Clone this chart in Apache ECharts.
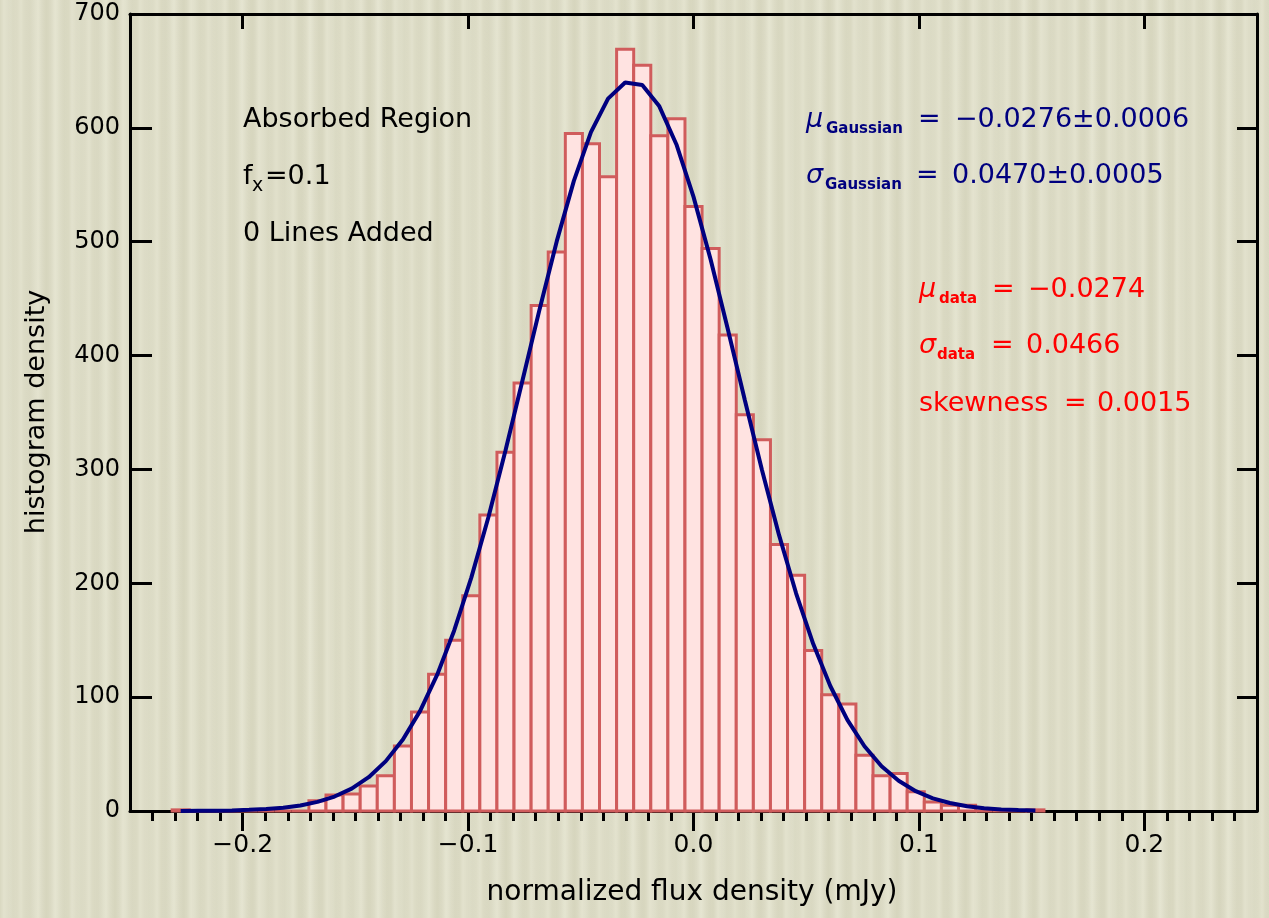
<!DOCTYPE html>
<html>
<head>
<meta charset="utf-8">
<script src="https://cdn.jsdelivr.net/npm/echarts@6/dist/echarts.min.js"></script>
<style>
  html, body { margin:0; padding:0; }
  body { width:1269px; height:918px; background-color:#d9d8c1;
    background-image:
      repeating-linear-gradient(90deg, rgba(255,255,240,0) 0px, rgba(255,255,240,0.22) 4px, rgba(255,255,240,0) 9px, rgba(190,190,160,0.10) 13px, rgba(255,255,240,0) 17px),
      repeating-linear-gradient(90deg, rgba(255,255,245,0) 0px, rgba(255,255,245,0.15) 11px, rgba(255,255,245,0) 23px); }
  #chart { width:1269px; height:918px; }
</style>
</head>
<body>
<div id="chart"></div>
<script>
// ---- data ----
const binStart = -0.2313;      // left edge of first histogram bin
const binWidth = 0.007584;     // histogram bin width
const counts = [1, 0, 0, 0, 0, 0, 0, 0, 9, 14, 15, 22, 31, 57, 87, 120, 150, 189,
  260, 315, 376, 444, 491, 595, 586, 557, 669, 655, 593, 608, 531, 494, 418,
  348, 326, 234, 207, 141, 102, 94, 49, 31, 33, 17, 8, 5, 5, 0, 0, 0, 1];
const gaussCurve = [0.1, 0.2, 0.3, 0.5, 1, 1.7, 2.9, 4.9, 8, 12.7, 19.7, 29.7, 43.8,
  62.8, 87.7, 119.5, 158.6, 205, 258, 316.7, 378.6, 441, 500.5, 553.4, 596.2,
  625.7, 639.9, 637.6, 618.9, 585.4, 539.4, 484.3, 423.6, 361, 299.7, 242.5,
  191.2, 146.8, 109.8, 80, 56.9, 39.3, 26.5, 17.4, 11.1, 7, 4.2, 2.5, 1.4, 0.8, 0.4];
const xMajorTicks = [-0.2, -0.1, 0.0, 0.1, 0.2];
const xMinorTicks = [-0.24,-0.23,-0.22,-0.21,-0.19,-0.18,-0.17,-0.16,-0.15,-0.14,-0.13,-0.12,-0.11,
  -0.09,-0.08,-0.07,-0.06,-0.05,-0.04,-0.03,-0.02,-0.01,0.01,0.02,0.03,0.04,0.05,0.06,0.07,0.08,0.09,
  0.11,0.12,0.13,0.14,0.15,0.16,0.17,0.18,0.19,0.21,0.22,0.23,0.24];
const yTicks = [0, 100, 200, 300, 400, 500, 600, 700];

// ---- build series data ----
const histData = counts.map((c, k) => [binStart + k * binWidth, binStart + (k + 1) * binWidth, c]);
const curveData = gaussCurve.map((v, k) => [binStart + (k + 0.5) * binWidth, v]);

const FONT = 'DejaVu Sans';
const BLUE = '#00007f';
const RED = '#ff0000';

function txt(x, y, text, opts) {
  opts = opts || {};
  return {
    type: 'text', x: x, y: y, z: 100,
    rotation: opts.rotation || 0,
    style: {
      text: text,
      fontFamily: FONT,
      fontSize: opts.size || 27,
      fontStyle: opts.italic ? 'italic' : 'normal',
      fontWeight: opts.bold ? 'bold' : 'normal',
      fill: opts.color || '#000',
      align: opts.align || 'left',
      verticalAlign: 'middle'
    }
  };
}

const chart = echarts.init(document.getElementById('chart'), null, { renderer: 'canvas' });
const fmt = v => (v < 0 ? '\u2212' : '') + Math.abs(v).toFixed(1);

chart.setOption({
  backgroundColor: 'transparent',
  animation: false,
  grid: { left: 130, top: 14, width: 1127, height: 797, containLabel: false },
  xAxis: [
    { type: 'value', min: -0.25, max: 0.25, position: 'bottom',
      axisLine: { show: true, onZero: false, lineStyle: { color: '#000', width: 3 } },
      axisTick: { show: true, inside: false, length: 20, customValues: xMajorTicks, lineStyle: { color: '#000', width: 3 } },
      axisLabel: { show: true, customValues: xMajorTicks, formatter: fmt, margin: 22, fontSize: 25, fontFamily: FONT, color: '#000' },
      splitLine: { show: false } },
    { type: 'value', min: -0.25, max: 0.25, position: 'bottom',
      axisLine: { show: false, onZero: false },
      axisTick: { show: true, inside: false, length: 10, customValues: xMinorTicks, lineStyle: { color: '#000', width: 3 } },
      axisLabel: { show: false }, splitLine: { show: false } },
    { type: 'value', min: -0.25, max: 0.25, position: 'top',
      axisLine: { show: true, onZero: false, lineStyle: { color: '#000', width: 3 } },
      axisTick: { show: true, inside: true, length: 15, customValues: xMajorTicks, lineStyle: { color: '#000', width: 3 } },
      axisLabel: { show: false }, splitLine: { show: false } }
  ],
  yAxis: [
    { type: 'value', min: 0, max: 700, interval: 100, position: 'left',
      axisLine: { show: true, onZero: false, lineStyle: { color: '#000', width: 3 } },
      axisTick: { show: true, inside: true, length: 22, lineStyle: { color: '#000', width: 3 } },
      axisLabel: { show: true, margin: 10, fontSize: 24, fontFamily: FONT, color: '#000',
        formatter: v => (yTicks.indexOf(v) >= 0 ? String(v) : '') },
      splitLine: { show: false } },
    { type: 'value', min: 0, max: 700, interval: 100, position: 'right',
      axisLine: { show: true, onZero: false, lineStyle: { color: '#000', width: 3 } },
      axisTick: { show: true, inside: true, length: 20, lineStyle: { color: '#000', width: 3 } },
      axisLabel: { show: false }, splitLine: { show: false } }
  ],
  series: [
    { type: 'custom', xAxisIndex: 0, yAxisIndex: 0, data: histData,
      encode: { x: [0, 1], y: 2 },
      renderItem: function (params, api) {
        const p0 = api.coord([api.value(0), api.value(2)]);
        const p1 = api.coord([api.value(1), 0]);
        return { type: 'rect',
          shape: { x: p0[0], y: p0[1], width: p1[0] - p0[0], height: p1[1] - p0[1] },
          style: { fill: '#ffe3e1', stroke: '#d05c5c', lineWidth: 3 } };
      }, z: 2 },
    { type: 'line', xAxisIndex: 0, yAxisIndex: 0, data: curveData, showSymbol: false,
      smooth: false, lineStyle: { color: BLUE, width: 4 }, z: 5 }
  ],
  graphic: [
    txt(37, 412, 'histogram density', { rotation: Math.PI / 2, align: 'center', size: 27 }),
    txt(692, 893, 'normalized flux density (mJy)', { align: 'center', size: 28 }),

    txt(243, 120, 'Absorbed Region'),
    txt(243, 177, 'f'),
    txt(252, 186, 'x', { size: 19 }),
    txt(265, 177, '=0.1'),
    txt(243, 234, '0 Lines Added'),

    txt(806, 120, '\u03bc', { italic: true, color: BLUE }),
    txt(826, 129, 'Gaussian', { size: 15, bold: true, color: BLUE }),
    txt(918, 120, '=', { color: BLUE }),
    txt(955, 120, '\u22120.0276\u00b10.0006', { color: BLUE }),

    txt(806, 176, '\u03c3', { italic: true, color: BLUE }),
    txt(825, 185, 'Gaussian', { size: 15, bold: true, color: BLUE }),
    txt(916, 176, '=', { color: BLUE }),
    txt(952, 176, '0.0470\u00b10.0005', { color: BLUE }),

    txt(919, 290, '\u03bc', { italic: true, color: RED }),
    txt(939, 299, 'data', { size: 15, bold: true, color: RED }),
    txt(992, 290, '=', { color: RED }),
    txt(1028, 290, '\u22120.0274', { color: RED }),

    txt(919, 346, '\u03c3', { italic: true, color: RED }),
    txt(937, 355, 'data', { size: 15, bold: true, color: RED }),
    txt(991, 346, '=', { color: RED }),
    txt(1026, 346, '0.0466', { color: RED }),

    txt(919, 404, 'skewness', { color: RED }),
    txt(1064, 404, '=', { color: RED }),
    txt(1097, 404, '0.0015', { color: RED })
  ]
});
</script>
</body>
</html>
